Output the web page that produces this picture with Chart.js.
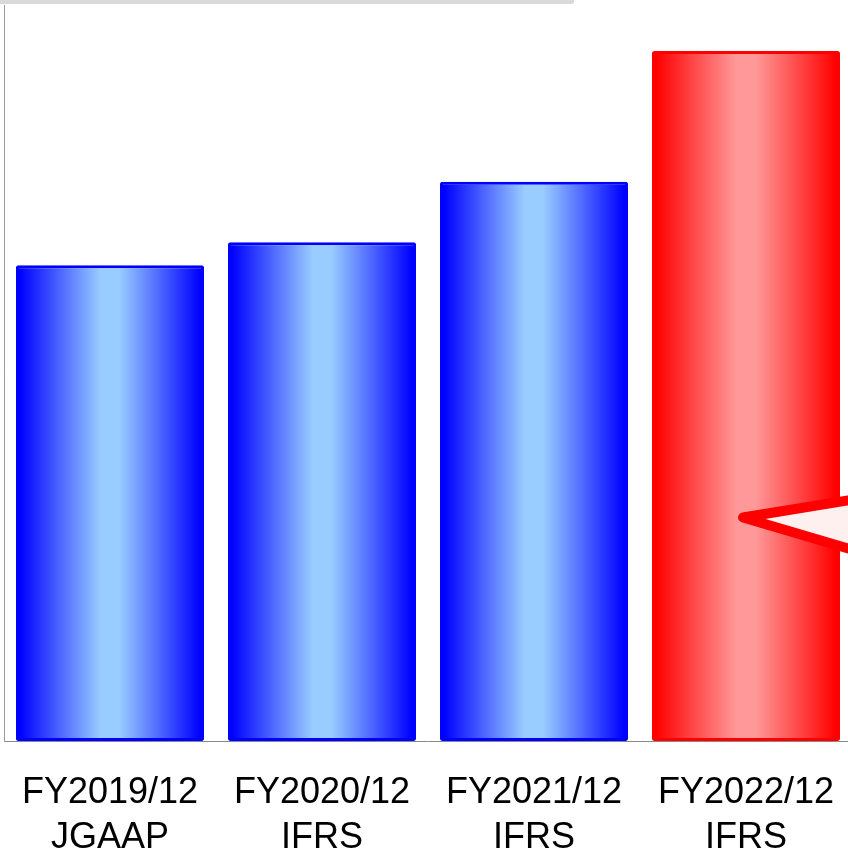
<!DOCTYPE html>
<html>
<head>
<meta charset="utf-8">
<script src="https://cdn.jsdelivr.net/npm/chart.js@4/dist/chart.umd.min.js"></script>
<style>
  html, body { margin: 0; padding: 0; background: #fff; overflow: hidden; }
  .wrap { position: relative; width: 848px; height: 852px; overflow: hidden; }
  .topbar { position: absolute; left: 0; top: 0; width: 574px; height: 4px; background: #d9d9d9; border-radius: 0 0 2px 0; z-index: 2; }
  .graph { position: absolute; left: 0; top: 0; width: 852px; height: 852px; }
</style>
</head>
<body>
<div class="wrap">
  <div class="topbar"></div>
  <div class="graph"><canvas id="chart"></canvas></div>
</div>
<script>
const periods = ['FY2019/12', 'FY2020/12', 'FY2021/12', 'FY2022/12'];
const standards = ['JGAAP', 'IFRS', 'IFRS', 'IFRS'];
const values = [517, 542, 608, 750];
const highlight = [false, false, false, true];

const yMax = 800;
const barPct = 0.887;

// edge colour / centre colour of the cylinder-style fill
const blue = ['#0000ff', '#99ccff'];
const red = ['#ff0000', '#ff9999'];

const labels = periods.map((p, i) => [p, standards[i]]);

function barFill(context) {
  const chart = context.chart;
  const pair = highlight[context.dataIndex] ? red : blue;
  const xScale = chart.scales.x;
  if (!chart.chartArea || !xScale) return pair[0];
  const center = xScale.getPixelForValue(context.dataIndex);
  const half = xScale.width / labels.length * barPct / 2;
  const g = chart.ctx.createLinearGradient(center - half, 0, center + half, 0);
  g.addColorStop(0, pair[0]);
  g.addColorStop(0.02, pair[0]);
  g.addColorStop(0.45, pair[1]);
  g.addColorStop(0.55, pair[1]);
  g.addColorStop(0.98, pair[0]);
  g.addColorStop(1, pair[0]);
  return g;
}

// speech-bubble pointer coming in from the right onto the last bar
const calloutPlugin = {
  id: 'callout',
  afterDatasetsDraw(chart) {
    const meta = chart.getDatasetMeta(0);
    const bar = meta.data[meta.data.length - 1];
    const yScale = chart.scales.y;
    const tipX = bar.x - 3;
    const tipY = yScale.getPixelForValue(243);
    const farX = chart.width + 20;
    const ctx = chart.ctx;
    ctx.save();
    ctx.beginPath();
    ctx.moveTo(tipX, tipY);
    ctx.lineTo(farX, tipY - (farX - tipX) * 0.162);
    ctx.lineTo(farX, tipY + (farX - tipX) * 0.295);
    ctx.closePath();
    ctx.fillStyle = '#fff0f0';
    ctx.fill();
    ctx.lineWidth = 10;
    ctx.lineJoin = 'round';
    ctx.strokeStyle = '#ff0000';
    ctx.stroke();
    ctx.restore();
  }
};

new Chart(document.getElementById('chart').getContext('2d'), {
  type: 'bar',
  data: {
    labels: labels,
    datasets: [{
      data: values,
      backgroundColor: barFill,
      borderColor: highlight.map(h => h ? red[0] : blue[0]),
      borderWidth: 3,
      borderSkipped: false,
      borderRadius: 2,
      barPercentage: barPct,
      categoryPercentage: 1
    }]
  },
  options: {
    responsive: true,
    maintainAspectRatio: false,
    animation: false,
    layout: { padding: { left: 4, top: 5, right: 0, bottom: 0 } },
    plugins: { legend: { display: false }, tooltip: { enabled: false } },
    scales: {
      x: {
        afterFit(scale) {
          scale.height = 111;
          scale.paddingLeft = 0;
          scale.paddingRight = 0;
        },
        grid: { display: false, drawTicks: false },
        border: { display: true, color: '#888888', width: 1 },
        ticks: {
          color: '#000',
          padding: 30,
          maxRotation: 0,
          autoSkip: false,
          font: { family: '"Liberation Sans", Arial, sans-serif', size: 36, lineHeight: 1.25 }
        }
      },
      y: {
        min: 0,
        max: yMax,
        grid: { display: false, drawTicks: false },
        border: { display: true, color: '#999999', width: 1 },
        ticks: { display: false }
      }
    }
  },
  plugins: [calloutPlugin]
});
</script>
</body>
</html>
